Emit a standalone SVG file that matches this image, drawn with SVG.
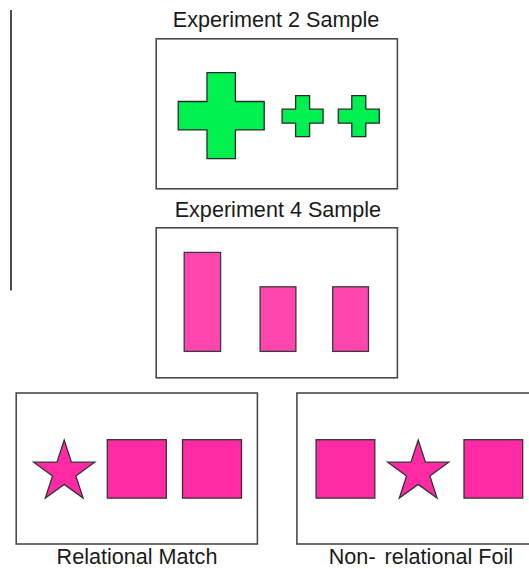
<svg xmlns="http://www.w3.org/2000/svg" width="529" height="569" viewBox="0 0 529 569">
<style>
.frame{fill:#fff;stroke:#4a4a4a;stroke-width:1.6}
.green{fill:#00f050;stroke:#2a2a2a;stroke-width:1.3}
.rect{fill:#ff45ae;stroke:#3a3a3a;stroke-width:1.3}
.mag{fill:#ff2aa4;stroke:#333;stroke-width:1.3}
.lbl{font-family:"Liberation Sans",Arial,sans-serif;font-size:21.6px;fill:#1a1a1a;text-anchor:middle}
</style>
<defs>
<polygon id="star" points="0,-32.1 7.21,-9.93 30.53,-9.92 11.67,3.79 18.87,25.97 0,12.27 -18.87,25.97 -11.67,3.79 -30.53,-9.92 -7.21,-9.93"/>
</defs>
<rect width="529" height="569" fill="#fff"/>
<line x1="11" y1="10" x2="11" y2="290.5" stroke="#000" stroke-width="1.4"/>
<g id="exp2">
<text class="lbl" x="276" y="26.7">Experiment 2 Sample</text>
<rect class="frame" x="156.2" y="38.8" width="241.2" height="150"/>
<polygon class="green" points="207,72.7 235.4,72.7 235.4,101.5 264.2,101.5 264.2,129.9 235.4,129.9 235.4,158.7 207,158.7 207,129.9 178.2,129.9 178.2,101.5 207,101.5"/>
<polygon class="green" points="295.6,95.7 309.6,95.7 309.6,109.2 323.1,109.2 323.1,123.2 309.6,123.2 309.6,136.7 295.6,136.7 295.6,123.2 282.1,123.2 282.1,109.2 295.6,109.2"/>
<polygon class="green" points="351.8,95.7 365.8,95.7 365.8,109.2 379.3,109.2 379.3,123.2 365.8,123.2 365.8,136.7 351.8,136.7 351.8,123.2 338.3,123.2 338.3,109.2 351.8,109.2"/>
</g>
<g id="exp4">
<text class="lbl" x="277.9" y="216.7">Experiment 4 Sample</text>
<rect class="frame" x="156.2" y="227.8" width="241.2" height="150"/>
<rect class="rect" x="184.2" y="252.4" width="36.4" height="99"/>
<rect class="rect" x="260.1" y="286.8" width="35.8" height="64.6"/>
<rect class="rect" x="332.7" y="286.8" width="35.8" height="64.6"/>
</g>
<g id="match">
<rect class="frame" x="16.2" y="393" width="241.2" height="151"/>
<use href="#star" class="mag" x="64.2" y="472.1"/>
<rect class="mag" x="107.3" y="439.7" width="59" height="58.4"/>
<rect class="mag" x="182.5" y="439.7" width="59" height="58.4"/>
<text class="lbl" x="137" y="564">Relational Match</text>
</g>
<g id="foil">
<rect class="frame" x="296.9" y="393" width="250" height="151"/>
<rect class="mag" x="316.1" y="439.7" width="58.7" height="58.4"/>
<use href="#star" class="mag" x="418.2" y="472.1"/>
<rect class="mag" x="464" y="439.7" width="58.7" height="58.4"/>
<text class="lbl" x="420.9" y="564">Non-<tspan dx="3"> relational Foil</tspan></text>
</g>
<g id="connectors"></g>
</svg>
